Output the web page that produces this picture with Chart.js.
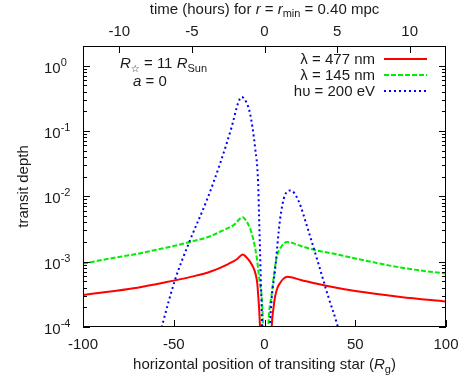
<!DOCTYPE html>
<html>
<head>
<meta charset="utf-8">
<script src="https://cdn.jsdelivr.net/npm/chart.js@4"></script>
<style>
  body { margin: 0; background: #fff; }
  canvas { display: block; }
</style>
</head>
<body>
<canvas id="transitChart" width="469" height="391"></canvas>
<script>
// horizontal position (R_g) and transit depth
const redX = [-100, -85, -70, -55, -40, -30, -20, -15, -12, -10, -8, -6, -5, -4, -3.4, -2.8, -2.5, -2,
  0, 3.5, 4, 5, 5.8, 7, 8.5, 10.5, 12.5, 20, 34, 50, 75, 100];
const redY = [3.1e-4, 3.5e-4, 4.0e-4, 4.8e-4, 5.9e-4, 7.0e-4, 9.2e-4, 1.1e-3, 1.29e-3, 1.17e-3, 1.0e-3, 7.94e-4, 6.61e-4, 4.68e-4, 2.88e-4, 1.58e-4, 1.0e-4, 3.16e-5,
  null, 3.16e-5, 1.0e-4, 2.0e-4, 2.88e-4, 3.89e-4, 4.68e-4, 5.50e-4, 5.89e-4, 5.25e-4, 4.27e-4, 3.55e-4, 2.88e-4, 2.45e-4];

const greenX = [-100, -85, -70, -55, -41, -30, -22.8, -17, -12, -10, -8, -6, -4.3, -2.5, -1.5, -0.8, -0.4,
  0, 1.5, 2.1, 4, 6.7, 9, 12.5, 20, 27.8, 40, 50, 60, 75, 90, 100];
const greenY = [9.33e-4, 1.12e-3, 1.32e-3, 1.62e-3, 2.0e-3, 2.45e-3, 3.02e-3, 3.63e-3, 4.79e-3, 4.17e-3, 3.24e-3, 2.09e-3, 1.17e-3, 4.47e-4, 2.82e-4, 1.0e-4, 2.5e-5,
  null, 2.5e-5, 1.0e-4, 3.24e-4, 1.17e-3, 1.66e-3, 2.0e-3, 1.74e-3, 1.51e-3, 1.29e-3, 1.12e-3, 9.77e-4, 8.13e-4, 7.08e-4, 6.61e-4];

const blueX = [-62, -56.6, -49.3, -41, -31.8, -24.5, -18.1, -14.4, -12.6, -10, -8, -5.2, -3.5, -3, -2.5, -2, -1.5, -1,
  0, 2.5, 3, 4, 5.8, 8.5, 11.3, 14.4, 18.6, 24.1, 29.7, 35.2, 39.8, 45];
const blueY = [2.5e-5, 1.0e-4, 5.25e-4, 2.14e-3, 8.71e-3, 3.16e-2, 0.115, 0.275, 0.331, 0.275, 0.186, 0.0562, 0.0158, 5.01e-3, 1.58e-3, 5.01e-4, 1.58e-4, 3.16e-5,
  null, 3.98e-5, 1.0e-4, 2.82e-4, 7.41e-4, 4.27e-3, 1.05e-2, 1.23e-2, 8.71e-3, 3.02e-3, 9.33e-4, 2.88e-4, 1.15e-4, 3.16e-5];

const seriesNames = ['λ = 477 nm', 'λ = 145 nm', 'hυ = 200 eV'];
const xTicks = [-100, -50, 0, 50, 100];
const hourTicks = [-10, -5, 0, 5, 10];
const yExponents = [0, -1, -2, -3, -4];

const FONT = '"Liberation Sans", Arial, "DejaVu Sans", sans-serif';
const f = (size, italic) => (italic ? 'italic ' : '') + size + 'px ' + FONT;

function toPoints(xs, ys) {
  return xs.map((x, i) => ({ x: x, y: ys[i] }));
}

// draws a row of text pieces: [text, size, italic, dy]
function textRun(c, parts, x, y, align) {
  let w = 0;
  parts.forEach(p => { c.font = f(p[1], p[2]); w += c.measureText(p[0]).width; });
  let cx = align === 'center' ? x - w / 2 : align === 'right' ? x - w : x;
  parts.forEach(p => {
    c.font = f(p[1], p[2]);
    c.fillText(p[0], cx, y + (p[3] || 0));
    cx += c.measureText(p[0]).width;
  });
}

const frame = {
  id: 'frame',
  afterDraw(chart) {
    const c = chart.ctx;
    const a = chart.chartArea;
    const xs = chart.scales.x, x2 = chart.scales.x2, ys = chart.scales.y;
    c.save();
    c.strokeStyle = '#000';
    c.fillStyle = '#000';
    c.lineWidth = 1;
    c.strokeRect(a.left + 0.5, a.top + 0.5, a.right - a.left - 1, a.bottom - a.top - 1);

    c.beginPath();
    xTicks.forEach(v => {
      const px = Math.round(xs.getPixelForValue(v)) + 0.5;
      c.moveTo(px, a.bottom); c.lineTo(px, a.bottom - 7);
    });
    hourTicks.forEach(v => {
      const px = Math.round(x2.getPixelForValue(v)) + 0.5;
      c.moveTo(px, a.top); c.lineTo(px, a.top + 7);
    });
    for (let e = -4; e <= 0; e++) {
      for (let m = 1; m <= 9; m++) {
        const v = m * Math.pow(10, e);
        if (v > 2) continue;
        const py = Math.round(ys.getPixelForValue(v)) + 0.5;
        const len = m === 1 ? 7 : 4;
        c.moveTo(a.left, py); c.lineTo(a.left + len, py);
        c.moveTo(a.right, py); c.lineTo(a.right - len, py);
      }
    }
    c.stroke();

    c.textBaseline = 'alphabetic';
    c.fillStyle = '#1a1a1a';
    c.textAlign = 'left';
    xTicks.forEach(v => textRun(c, [[String(v), 15]], xs.getPixelForValue(v), a.bottom + 22, 'center'));
    hourTicks.forEach(v => textRun(c, [[String(v), 15]], x2.getPixelForValue(v), a.top - 10, 'center'));
    yExponents.forEach(e => {
      const py = ys.getPixelForValue(Math.pow(10, e));
      textRun(c, [['10', 15], [String(e), 11, false, -7]], 44, py + 7, 'left');
    });

    textRun(c, [['time (hours) for ', 15], ['r', 15, true], [' = ', 15], ['r', 15, true], ['min', 11, false, 3], [' = 0.40 mpc', 15]],
      (a.left + a.right) / 2, 14, 'center');
    textRun(c, [['horizontal position of transiting star (', 15], ['R', 15, true], ['g', 11, false, 4], [')', 15]],
      (a.left + a.right) / 2, a.bottom + 42, 'center');

    c.save();
    c.translate(28, (a.top + a.bottom) / 2);
    c.rotate(-Math.PI / 2);
    textRun(c, [['transit depth', 15]], 0, 0, 'center');
    c.restore();

    textRun(c, [['R', 15, true], ['☆', 10, false, 4], [' = 11 ', 15], ['R', 15, true], ['Sun', 11, false, 4]], 120, 68, 'left');
    textRun(c, [['a', 15, true], [' = 0', 15]], 133, 86, 'left');

    chart.data.datasets.forEach((ds, i) => {
      const yy = 64 + i * 16;
      textRun(c, [[seriesNames[i], 15]], 375, yy, 'right');
      c.strokeStyle = ds.borderColor;
      c.lineWidth = ds.borderWidth;
      c.setLineDash(ds.borderDash || []);
      c.beginPath();
      c.moveTo(384, yy - 5); c.lineTo(427, yy - 5);
      c.stroke();
    });
    c.restore();
  }
};

new Chart(document.getElementById('transitChart'), {
  type: 'line',
  data: {
    datasets: [{
      label: seriesNames[0],
      data: toPoints(redX, redY),
      borderColor: '#ff0000',
      borderWidth: 2,
      order: 3
    }, {
      label: seriesNames[1],
      data: toPoints(greenX, greenY),
      borderColor: '#00ee00',
      borderWidth: 2,
      borderDash: [5, 2],
      order: 2
    }, {
      label: seriesNames[2],
      data: toPoints(blueX, blueY),
      borderColor: '#0000ff',
      borderWidth: 2,
      borderDash: [2, 3],
      order: 1
    }]
  },
  options: {
    responsive: false,
    animation: false,
    spanGaps: false,
    elements: {
      point: { radius: 0 },
      line: { cubicInterpolationMode: 'monotone', fill: false }
    },
    layout: { padding: { right: 23, left: 0, top: 0, bottom: 0 } },
    plugins: { legend: { display: false }, tooltip: { enabled: false } },
    scales: {
      x: {
        type: 'linear', position: 'bottom', min: -100, max: 100,
        grid: { display: false }, border: { display: false }, ticks: { display: false },
        afterFit(s) { s.height = 64; }
      },
      x2: {
        type: 'linear', position: 'top', axis: 'x', min: -12.5, max: 12.5,
        grid: { display: false }, border: { display: false }, ticks: { display: false },
        afterFit(s) { s.height = 46; }
      },
      y: {
        type: 'logarithmic', min: 1e-4, max: 2,
        grid: { display: false }, border: { display: false }, ticks: { display: false },
        afterFit(s) { s.width = 83; }
      }
    }
  },
  plugins: [frame]
});
</script>
</body>
</html>
